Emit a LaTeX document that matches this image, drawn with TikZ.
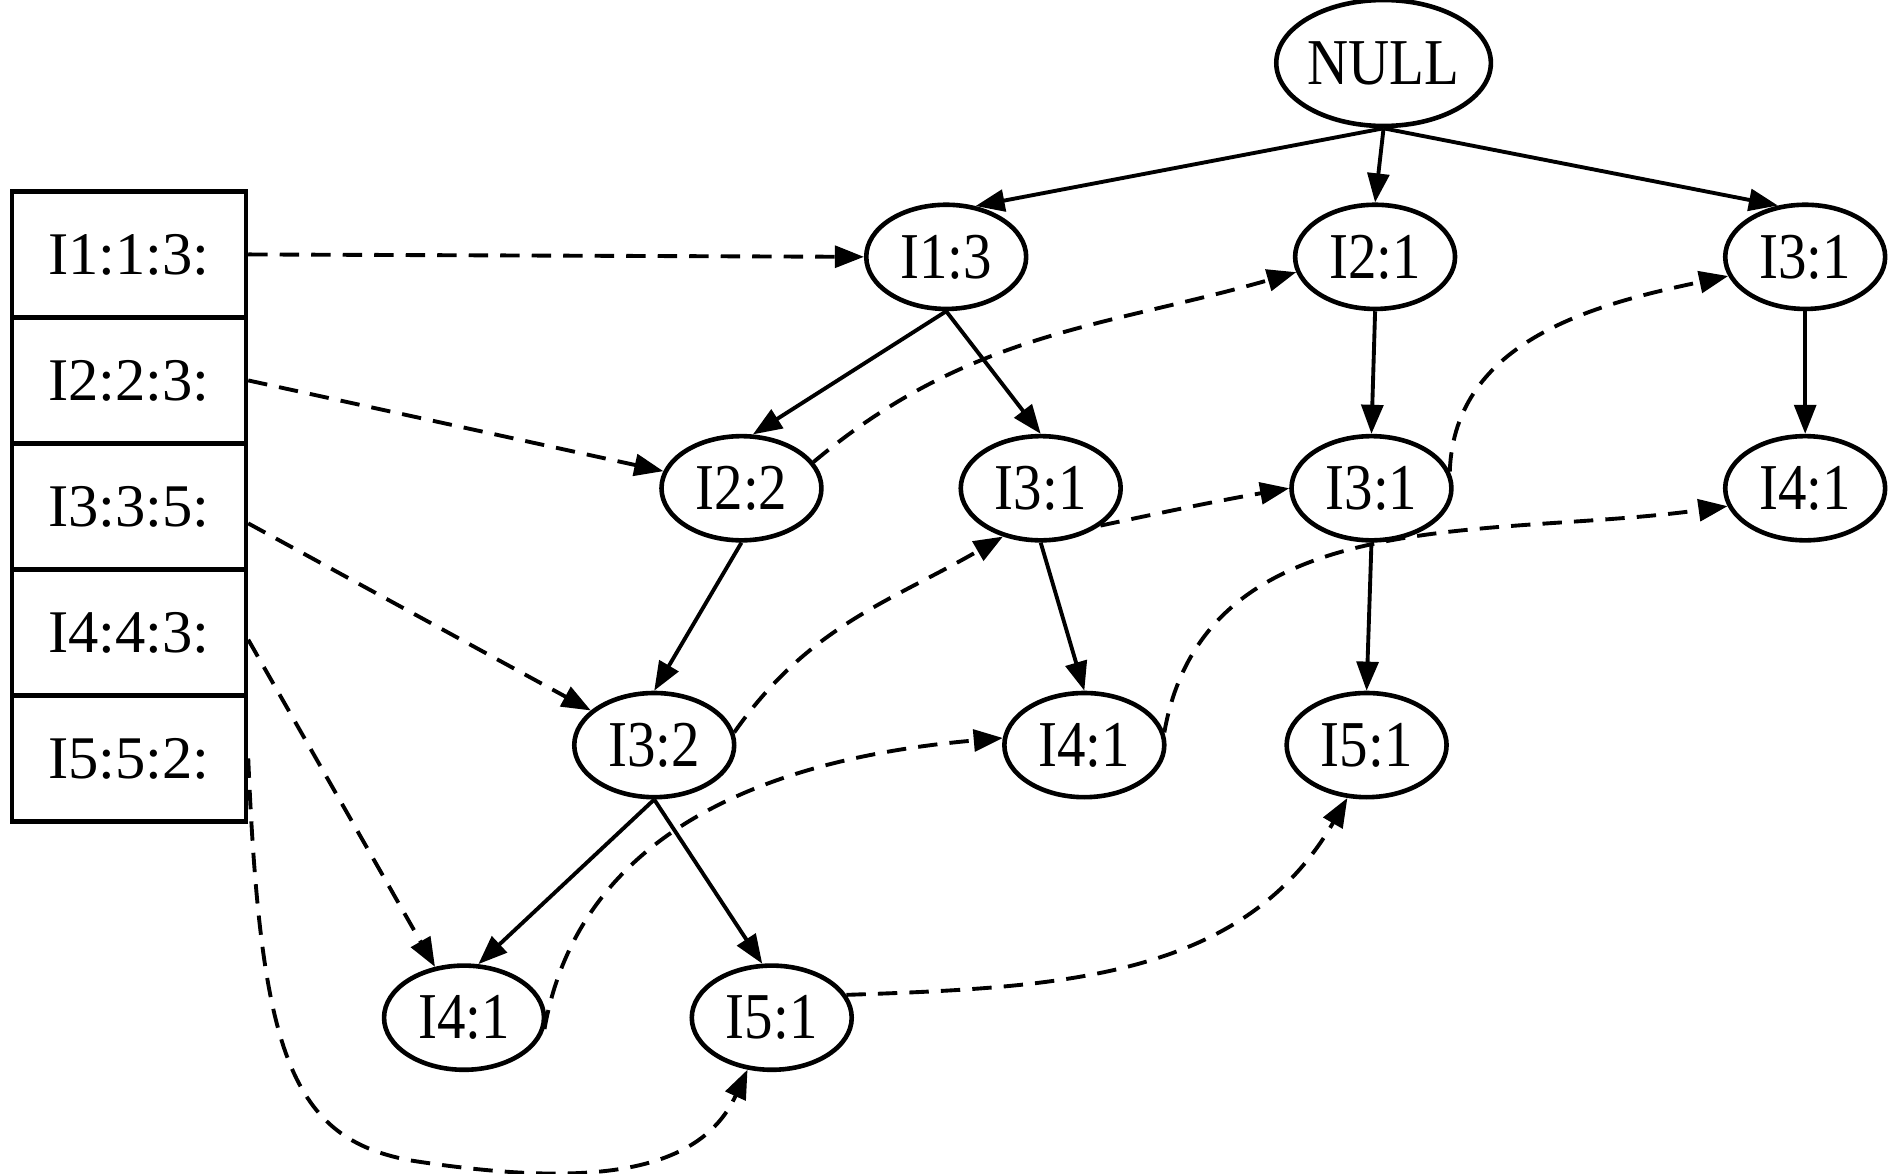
\documentclass[tikz,border=0pt]{standalone}
\usepackage{fontspec}
\setmainfont{Liberation Serif}
\newfontfamily\nodefont{Liberation Serif}[FakeStretch=0.87]
\usetikzlibrary{arrows.meta,shapes.geometric}
\begin{document}
\begin{tikzpicture}[x=0.5pt,y=-0.5pt,
  item/.style={ellipse,draw,line width=1.9pt,minimum width=66pt,minimum height=43pt,inner sep=0pt,font=\nodefont\fontsize{27}{27}\selectfont},
  cell/.style={rectangle,draw,line width=1.9pt,minimum width=96.5pt,minimum height=52pt,inner sep=0pt,font=\fontsize{25}{25}\selectfont},
  tree/.style={line width=1.6pt,-{Triangle[length=12pt,width=9pt]}},
  link/.style={line width=1.6pt,dash pattern=on 8pt off 5pt,-{Triangle[length=12pt,width=9pt]}}]
\useasboundingbox (0,0) rectangle (1560,969);
% header table
\node[cell] (r1) at (106.5,210) {I1:1:3:};
\node[cell] (r2) at (106.5,314) {I2:2:3:};
\node[cell] (r3) at (106.5,418) {I3:3:5:};
\node[cell] (r4) at (106.5,522) {I4:4:3:};
\node[cell] (r5) at (106.5,626) {I5:5:2:};
% tree nodes
\node[item,minimum width=85pt,minimum height=52pt] (null) at (1142,52) {NULL};
\node[item] (i13) at (781,212) {I1:3};
\node[item] (i21) at (1135,212) {I2:1};
\node[item] (i31a) at (1490,212) {I3:1};
\node[item] (i22) at (612,403) {I2:2};
\node[item] (i31m) at (859,403) {I3:1};
\node[item] (i31b) at (1132,403) {I3:1};
\node[item] (i41r) at (1490,403) {I4:1};
\node[item] (i32) at (540,615) {I3:2};
\node[item] (i41m) at (895,615) {I4:1};
\node[item] (i51) at (1128,615) {I5:1};
\node[item] (i41b) at (383,840) {I4:1};
\node[item] (i51b) at (637,840) {I5:1};
% tree edges
\draw[tree] (null.south) -- (i13.60);
\draw[tree] (null.south) -- (i21.north);
\draw[tree] (null.south) -- (i31a.118);
\draw[tree] (i13.south) -- (i22.78);
\draw[tree] (i13.south) -- (i31m.north);
\draw[tree] (i21.south) -- (i31b.north);
\draw[tree] (i31a.south) -- (i41r.north);
\draw[tree] (i22.south) -- (i32.north);
\draw[tree] (i31m.south) -- (i41m.north);
\draw[tree] (i31b.south) -- (i51.north);
\draw[tree] (i32.south) -- (i41b.75);
\draw[tree] (i32.south) -- (i51b.100);
% header links
\draw[link] (r1.east) -- (i13.west);
\draw[link] (r2.east) -- (i22);
\draw[link] ([yshift=-7pt]r3.east) -- (i32);
\draw[link] ([yshift=-3pt]r4.east) -- (i41b);
\draw[link] (r5.east) .. controls (215,870) and (240,940) .. (340,958)
  .. controls (470,978) and (575,975) .. (i51b.245);
% node links
\draw[link] (i22.20) to[out=40,in=196] (i21.191);
\draw[link] (i31m.-32) to[out=12,in=190] (i31b.west);
\draw[link] (i31b.12) to[out=88,in=192] (i31a.194);
\draw[link] (i32.9) to[out=55,in=210] (i31m.232);
\draw[link] (i41m.9) to[out=80,in=188] (i41r.193);
\draw[link] (i41b.-8) to[out=80,in=185] (i41m.175);
\draw[link] (i51b.17) to[out=2,in=240] (i51.250);
\end{tikzpicture}
\end{document}
